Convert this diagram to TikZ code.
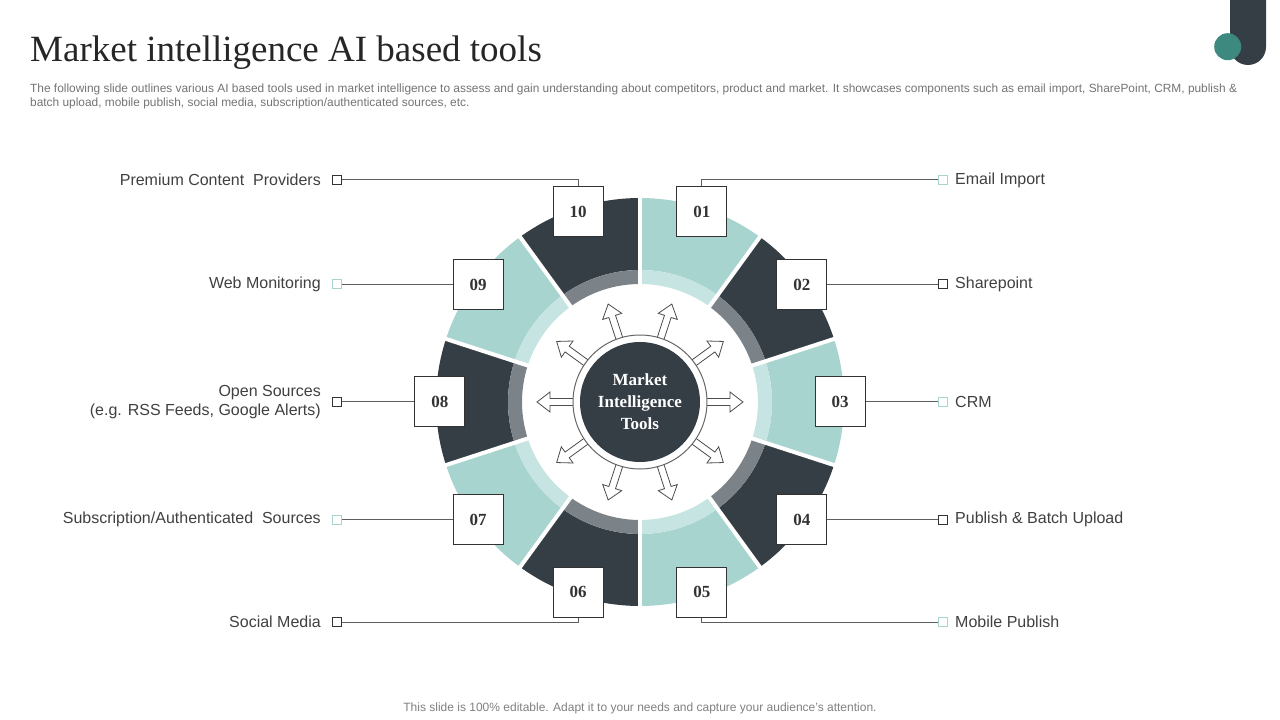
\documentclass[tikz,border=0pt]{standalone}
\usepackage{fontspec}
\setmainfont{Liberation Serif}
\setsansfont{Liberation Sans}
\usepackage{tikz}
\usetikzlibrary{positioning,calc}
\definecolor{mkDark}{HTML}{363E45}
\definecolor{mkGray}{HTML}{7B8288}
\definecolor{mkTeal}{HTML}{A7D4CF}
\definecolor{mkTealBg}{HTML}{C6E4E1}
\definecolor{mkAccent}{HTML}{3E897F}
\definecolor{mkText}{HTML}{404040}
\definecolor{mkLine}{HTML}{5E5E5E}
\tikzset{
  numcaja/.style={draw=black!80, line width=1pt, fill=white, minimum size=50pt, inner sep=0pt, font=\fontsize{17}{20}\selectfont\bfseries, text=black!80},
  marca/.style={draw=#1, line width=1pt, fill=white, minimum size=9pt, inner sep=0pt},
  etiq/.style={font=\sffamily\fontsize{16}{19}\selectfont, text=mkText, inner sep=0pt, align=right},
  conector/.style={draw=mkLine, line width=1pt},
  flecha/.style={draw=black!70, line width=0.8pt, fill=white, line join=miter},
}

\begin{document}
\begin{tikzpicture}[x=1pt, y=1pt]
\useasboundingbox (-640,-318) rectangle (640,402);

% cabecera
\node[anchor=base west, inner sep=0pt, font=\fontsize{37}{40}\selectfont, text=black!85] (titulo) at (-610,340) {Market intelligence AI based tools};
\node[anchor=north west, inner sep=0pt, align=left, font=\sffamily\fontsize{11.9}{14}\selectfont, text=black!55] (resumen) at (-610,318)
  {The following slide outlines various AI based tools used in market intelligence to assess and gain understanding about competitors, product and market. It showcases components such as email import, SharePoint, CRM, publish \&\\
   batch upload, mobile publish, social media, subscription/authenticated sources, etc.};
\fill[mkDark] (590,402) -- (590,355) arc[start angle=180, end angle=360, radius=18] -- (626,402) -- cycle;
\fill[mkAccent] (587.7,355.3) circle[radius=13.5];

% anillo
\foreach \i/\cf/\cd [evaluate=\i as \a using 90-36*\i, evaluate=\i as \b using 54-36*\i] in
  {0/mkTeal/mkTealBg, 1/mkDark/mkGray, 2/mkTeal/mkTealBg, 3/mkDark/mkGray, 4/mkTeal/mkTealBg,
   5/mkDark/mkGray, 6/mkTeal/mkTealBg, 7/mkDark/mkGray, 8/mkTeal/mkTealBg, 9/mkDark/mkGray}{
  \fill[\cf] (\a:204) arc[start angle=\a, end angle=\b, radius=204] -- (\b:132) arc[start angle=\b, end angle=\a, radius=132] -- cycle;
  \fill[\cd] (\a:132) arc[start angle=\a, end angle=\b, radius=132] -- (\b:118) arc[start angle=\b, end angle=\a, radius=118] -- cycle;
}
\foreach \a in {90,54,...,-234}
  \draw[white, line width=4pt] (\a:110) -- (\a:210);

% centro
\foreach \a in {0,36,...,324}
  \draw[flecha, rotate=\a] (66,-3.5) -- (90,-3.5) -- (90,-10) -- (103,0) -- (90,10) -- (90,3.5) -- (66,3.5);
\draw[black!60, line width=1pt, fill=white] (0,0) circle[radius=67];
\node[circle, fill=mkDark, minimum size=120pt, inner sep=0pt, align=center, text=white, font=\fontsize{17}{22}\selectfont\bfseries] (centro) at (0,0) {Market\\Intelligence\\Tools};

% cajas numeradas
\foreach \n/\a in {01/72,02/36,03/0,04/-36,05/-72,06/-108,07/-144,08/180,09/144,10/108}
  \node[numcaja] (n\n) at (\a:200) {\n};

% marcas
\coordinate (colder) at (303,0);
\coordinate (colizq) at (-303,0);
\coordinate (filsup) at (0,222);
\coordinate (filinf) at (0,-220);
\node[marca=mkTeal]   (m01) at (colder |- filsup) {};
\node[marca=black!80] (m02) at (n02 -| colder) {};
\node[marca=mkTeal]   (m03) at (n03 -| colder) {};
\node[marca=black!80] (m04) at (n04 -| colder) {};
\node[marca=mkTeal]   (m05) at (colder |- filinf) {};
\node[marca=black!80] (m06) at (colizq |- filinf) {};
\node[marca=mkTeal]   (m07) at (n07 -| colizq) {};
\node[marca=black!80] (m08) at (n08 -| colizq) {};
\node[marca=mkTeal]   (m09) at (n09 -| colizq) {};
\node[marca=black!80] (m10) at (colizq |- filsup) {};

\draw[conector] (n01.north) |- (m01.west);
\draw[conector] (n02.east) -- (m02.west);
\draw[conector] (n03.east) -- (m03.west);
\draw[conector] (n04.east) -- (m04.west);
\draw[conector] (n05.south) |- (m05.west);
\draw[conector] (n06.south) |- (m06.east);
\draw[conector] (n07.west) -- (m07.east);
\draw[conector] (n08.west) -- (m08.east);
\draw[conector] (n09.west) -- (m09.east);
\draw[conector] (n10.north) |- (m10.east);

% etiquetas
\node[etiq, right=7pt of m01] (e01) {Email Import};
\node[etiq, right=7pt of m02] (e02) {Sharepoint};
\node[etiq, right=7pt of m03] (e03) {CRM};
\node[etiq, right=7pt of m04] (e04) {Publish \& Batch Upload};
\node[etiq, right=7pt of m05] (e05) {Mobile Publish};
\node[etiq, left=11pt of m06] (e06) {Social Media};
\node[etiq, left=11pt of m07] (e07) {Subscription/Authenticated\ \ Sources};
\node[etiq, left=11pt of m08] (e08) {Open Sources\\(e.g. RSS Feeds, Google Alerts)};
\node[etiq, left=11pt of m09] (e09) {Web Monitoring};
\node[etiq, left=11pt of m10] (e10) {Premium Content\ \ Providers};

% pie
\node[font=\sffamily\fontsize{12}{14}\selectfont, text=black!50] (pie) at (0,-306) {This slide is 100\% editable. Adapt it to your needs and capture your audience's attention.};
\end{tikzpicture}
\end{document}
